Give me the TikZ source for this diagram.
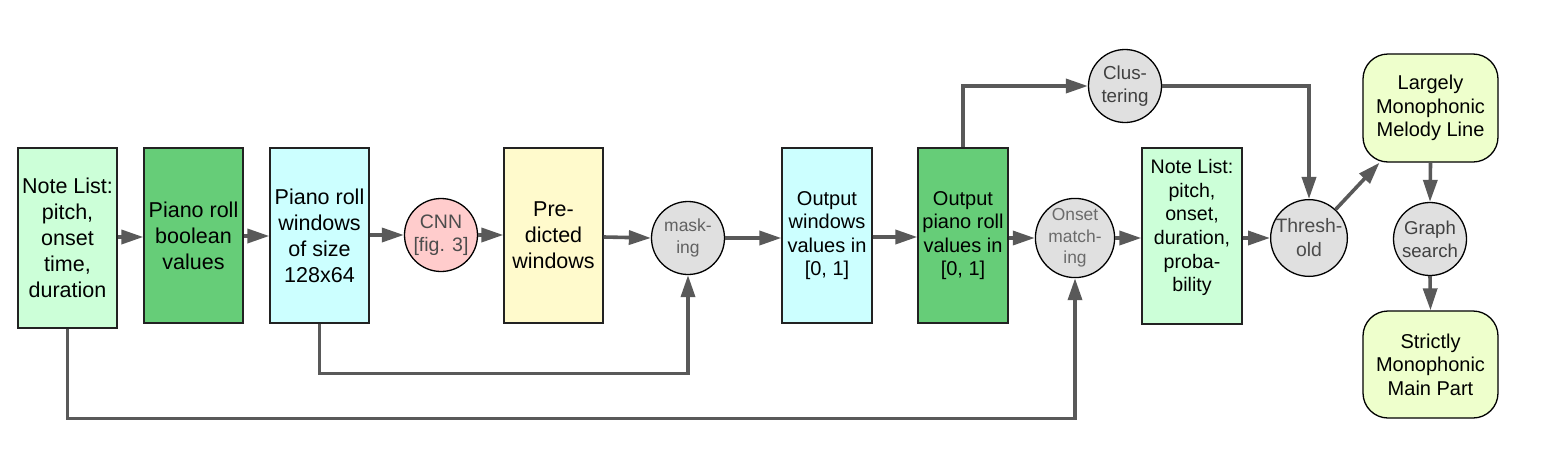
\documentclass[tikz,border=0pt]{standalone}
\usepackage{fontspec}
\setmainfont{Liberation Sans}
\usetikzlibrary{arrows.meta}
\definecolor{lgreen}{HTML}{CCFFD8}
\definecolor{dgreen}{HTML}{66CD78}
\definecolor{lcyan}{HTML}{CCFFFF}
\definecolor{lyellow}{HTML}{FFFACC}
\definecolor{lpink}{HTML}{FFCCCC}
\definecolor{lgray}{HTML}{E0E0E0}
\definecolor{llime}{HTML}{EEFFCC}
\definecolor{arrowgray}{HTML}{595959}
\definecolor{bordercol}{HTML}{222222}
\begin{document}
\begin{tikzpicture}[x=1pt,y=-1pt,
  boxnode/.style={draw=bordercol,line width=1.3pt,rectangle,inner sep=0pt,align=center,
    minimum width=99pt,minimum height=175pt,text=black},
  bigfont/.style={font=\fontsize{21.5}{26}\selectfont},
  midfont/.style={font=\fontsize{20}{23.5}\selectfont},
  circnode/.style={draw=black,line width=1.3pt,circle,inner sep=0pt,minimum size=73pt,
    fill=lgray,align=center},
  roundnode/.style={draw=black,line width=1.3pt,rectangle,rounded corners=25pt,inner sep=0pt,
    minimum width=135pt,minimum height=107pt,fill=llime,align=center,text=black,
    font=\fontsize{20}{23.5}\selectfont},
  conn/.style={draw=arrowgray,line width=3.6pt,-{Triangle[length=22pt,width=14pt]}}
]
\useasboundingbox (0,0) rectangle (1541,458);

% boxes
\node[boxnode,bigfont,fill=lgreen,minimum height=180pt] (nl1) at (67.5,238) {Note List:\\pitch,\\onset\\time,\\duration};
\node[boxnode,bigfont,fill=dgreen] (prb) at (193.5,235.5) {Piano roll\\boolean\\values};
\node[boxnode,bigfont,fill=lcyan] (win) at (319.5,235.5) {Piano roll\\windows\\of size\\128x64};
\node[circnode,fill=lpink,text=black!70,font=\fontsize{19.5}{23}\selectfont] (cnn) at (441,235) {CNN\\{}[fig. 3]};
\node[boxnode,bigfont,fill=lyellow] (pred) at (553.5,235.5) {Pre-\\dicted\\windows};
\node[circnode,text=black!62,font=\fontsize{17.5}{22}\selectfont] (mask) at (688,238) {mask-\\ing};
\node[boxnode,midfont,fill=lcyan,minimum width=90pt] (ow) at (827,235.5) {Output\\windows\\values in\\{}[0, 1]};
\node[boxnode,midfont,fill=dgreen,minimum width=90pt] (opr) at (963,235.5) {Output\\piano roll\\values in\\{}[0, 1]};
\node[circnode,text=black!58,font=\fontsize{17.4}{21.5}\selectfont] (onset) at (1075,238) {Onset\\match-\\ing};
\node[boxnode,fill=lgreen,minimum width=100pt,minimum height=176pt] (nl2) at (1192,236) {};
\node[align=center,inner sep=0pt,text=black,font=\fontsize{19.6}{23.7}\selectfont] (nl2text) at ([yshift=8.5pt]nl2.center) {Note List:\\pitch,\\onset,\\duration,\\proba-\\bility};
\node[circnode,text=black!75,font=\fontsize{18.8}{23.5}\selectfont] (clus) at (1125,86) {Clus-\\tering};
\node[circnode,text=black!70,font=\fontsize{19.4}{24}\selectfont] (thr) at (1309,238) {Thresh-\\old};
\node[roundnode,minimum height=108pt] (lar) at (1430.5,108) {Largely\\Monophonic\\Melody Line};
\node[circnode,text=black!75,font=\fontsize{18.6}{23}\selectfont] (gs) at (1430,239) {Graph\\search};
\node[roundnode] (str) at (1430.5,364.5) {Strictly\\Monophonic\\Main Part};

% main chain
\draw[conn] (nl1.east |- 0,237) -- (prb.west |- 0,237);
\draw[conn] (prb.east |- 0,236) -- (win.west |- 0,236);
\draw[conn] (win.east |- 0,235) -- (cnn.west);
\draw[conn] (cnn.east) -- (pred.west |- 0,235);
\draw[conn] (pred.east |- 0,237) -- (mask.west);
\draw[conn] (mask.east) -- (ow.west |- 0,238);
\draw[conn] (ow.east |- 0,237) -- (opr.west |- 0,237);
\draw[conn] (opr.east |- 0,238) -- (onset.west);
\draw[conn] (onset.east) -- (nl2.west |- 0,238);
\draw[conn] (nl2.east |- 0,238) -- (thr.west);

% feedback routes
\draw[conn] (win.south) -- ++(0,50) -| (mask.south);
\draw[conn] (nl1.south) -- ++(0,90) -| (onset.south);
\draw[conn] (opr.north) |- (clus.west);
\draw[conn] (clus.east) -| (thr.north);

% right column
\draw[conn] (thr.47) -- (lar.227);
\draw[conn] (lar.south) -- (gs.north);
\draw[conn] (gs.south) -- (str.north);
\end{tikzpicture}
\end{document}
